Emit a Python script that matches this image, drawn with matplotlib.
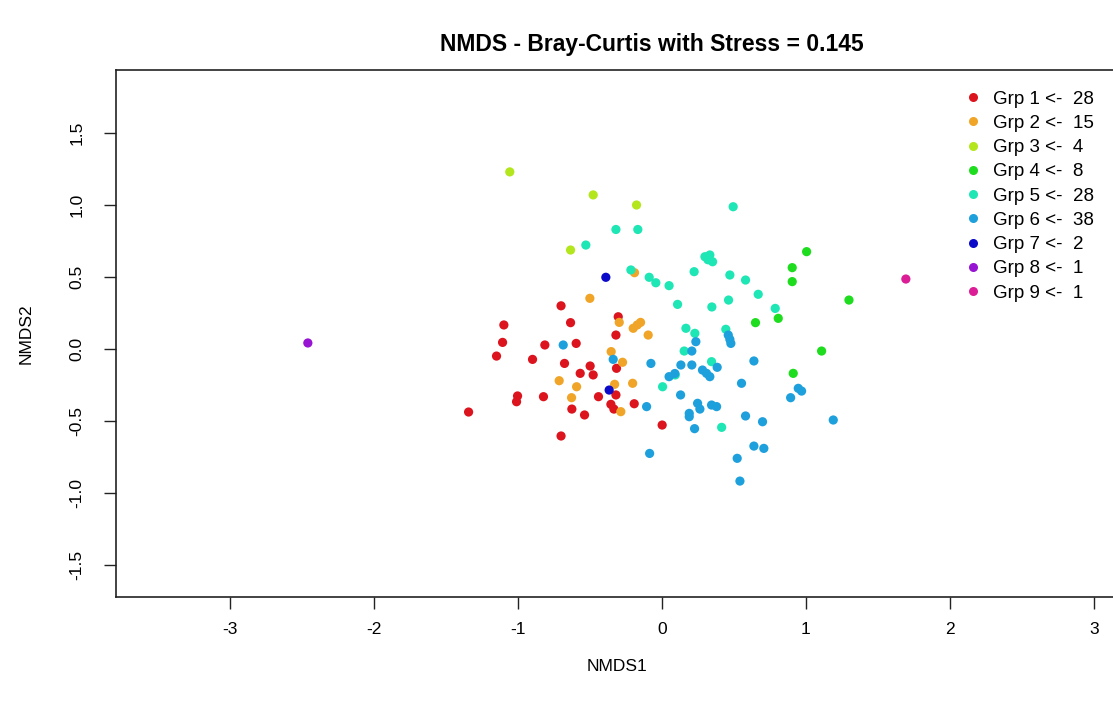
import matplotlib
matplotlib.use("Agg")
import matplotlib.pyplot as plt
from matplotlib.lines import Line2D

plt.rcParams['font.family'] = ['Liberation Sans', 'DejaVu Sans']

groups = ["Grp 1", "Grp 2", "Grp 3", "Grp 4", "Grp 5", "Grp 6", "Grp 7", "Grp 8", "Grp 9"]
counts = [28, 15, 4, 8, 28, 38, 2, 1, 1]
colors = ["#DC141E", "#F0A528", "#B4E61E", "#1EDC1E", "#1EE6B4", "#1EA0DC", "#0A0AC8", "#9614D2", "#DC1E96"]

g1_x = [-0.70, -1.097, -0.634, -0.303, -0.319, -1.106, -0.8125, -0.595, -1.148, -0.898,
        -0.676, -0.498, -0.315, -0.567, -0.477, -0.319, -1.002, -1.009, -0.822, -0.44,
        -0.354, -0.333, -0.192, -0.625, -0.537, -1.342, 0.002, -0.70]
g1_y = [0.30, 0.167, 0.183, 0.224, 0.097, 0.046, 0.028, 0.039, -0.049, -0.072,
        -0.10, -0.118, -0.134, -0.169, -0.18, -0.319, -0.326, -0.366, -0.331, -0.331,
        -0.384, -0.417, -0.38, -0.417, -0.458, -0.4375, -0.528, -0.604]

g2_x = [-0.19, -0.5, -0.296, -0.199, -0.171, -0.148, -0.095, -0.352, -0.273, -0.713,
        -0.592, -0.328, -0.203, -0.627, -0.285]
g2_y = [0.53, 0.352, 0.185, 0.144, 0.167, 0.185, 0.097, -0.018, -0.092, -0.22,
        -0.262, -0.245, -0.238, -0.338, -0.435]

g3_x = [-1.056, -0.477, -0.176, -0.634]
g3_y = [1.23, 1.07, 1.0, 0.6875]

g4_x = [1.005, 0.905, 0.905, 1.299, 0.808, 0.65, 1.109, 0.912]
g4_y = [0.676, 0.565, 0.468, 0.34, 0.213, 0.183, -0.014, -0.169]

g5_x = [-0.319, -0.167, -0.528, -0.215, -0.088, -0.042, 0.05, 0.224, 0.109, 0.167,
        0.229, 0.155, 0.005, 0.093, 0.495, 0.299, 0.333, 0.352, 0.472, 0.581,
        0.669, 0.347, 0.463, 0.787, 0.444, 0.345, 0.415, 0.32]
g5_y = [0.83, 0.83, 0.722, 0.549, 0.498, 0.46, 0.44, 0.537, 0.31, 0.144,
        0.109, -0.014, -0.262, -0.18, 0.988, 0.641, 0.653, 0.606, 0.514, 0.479,
        0.38, 0.292, 0.34, 0.282, 0.137, -0.088, -0.544, 0.62]

g6_x = [-0.685, 0.208, 0.236, -0.338, -0.076, 0.13, 0.132, 0.208, 0.05, 0.19,
        0.19, 0.227, 0.248, -0.106, -0.085, 0.461, 0.472, 0.479, 0.639, 0.282,
        0.31, 0.333, 0.384, 0.553, 0.947, 0.97, 0.894, 0.264, 0.345, 0.38,
        0.581, 0.699, 1.19, 0.639, 0.708, 0.523, 0.542, 0.09]
g6_y = [0.028, -0.014, 0.051, -0.072, -0.10, -0.319, -0.111, -0.111, -0.192, -0.447,
        -0.47, -0.553, -0.377, -0.40, -0.725, 0.097, 0.067, 0.039, -0.083, -0.146,
        -0.169, -0.192, -0.127, -0.238, -0.273, -0.292, -0.338, -0.417, -0.389, -0.40,
        -0.465, -0.505, -0.493, -0.674, -0.69, -0.759, -0.917, -0.17]

g7_x = [-0.389, -0.366]
g7_y = [0.498, -0.285]

g8_x = [-2.458]
g8_y = [0.042]

g9_x = [1.694]
g9_y = [0.486]

xs = [g1_x, g2_x, g3_x, g4_x, g5_x, g6_x, g7_x, g8_x, g9_x]
ys = [g1_y, g2_y, g3_y, g4_y, g5_y, g6_y, g7_y, g8_y, g9_y]

x_ticks = [-3, -2, -1, 0, 1, 2, 3]
y_ticks = [-1.5, -1.0, -0.5, 0.0, 0.5, 1.0, 1.5]

W, H = 1113, 706
fig = plt.figure(figsize=(W / 100, H / 100), dpi=100)
ax = fig.add_axes([116 / W, (H - 597) / H, 1001 / W, 527 / H])

for gx, gy, c in zip(xs, ys, colors):
    ax.scatter(gx, gy, s=44, color=c, edgecolors='none', zorder=3)

ax.set_xlim(-3.79, 3.16)
ax.set_ylim(-1.722, 1.9375)
ax.set_xticks(x_ticks)
ax.set_xticklabels([str(t) for t in x_ticks])
ax.set_yticks(y_ticks)
ax.set_yticklabels([f"{t:.1f}" for t in y_ticks], rotation=90, va='center')
ax.tick_params(axis='both', length=8.5, width=1, labelsize=12.5, color='#222222')
ax.tick_params(axis='x', pad=9.5)
ax.tick_params(axis='y', pad=14)
for sp in ax.spines.values():
    sp.set_linewidth(1.2)
    sp.set_color('#222222')

ax.set_xlabel("NMDS1", fontsize=12.5, labelpad=16)
ax.set_ylabel("NMDS2", fontsize=12.5, labelpad=26)

fig.text(652 / W, 1 - 45 / H, "NMDS - Bray-Curtis with Stress = 0.145",
         ha='center', va='center', fontsize=16.5, fontweight='bold')

handles = [Line2D([0], [0], marker='o', linestyle='none', markersize=6.5,
                  markerfacecolor=c, markeredgecolor='none') for c in colors]
labels = [f"{g} <-  {n}" for g, n in zip(groups, counts)]
leg = ax.legend(handles, labels, loc='upper left',
                bbox_to_anchor=(963.5 / W, 1 - 90.5 / H), bbox_transform=fig.transFigure,
                frameon=False, fontsize=13.5, handlelength=1.0, handletextpad=0.57,
                labelspacing=0.38, borderpad=0.0, borderaxespad=0.0)

fig.savefig("out.png", dpi=100)
